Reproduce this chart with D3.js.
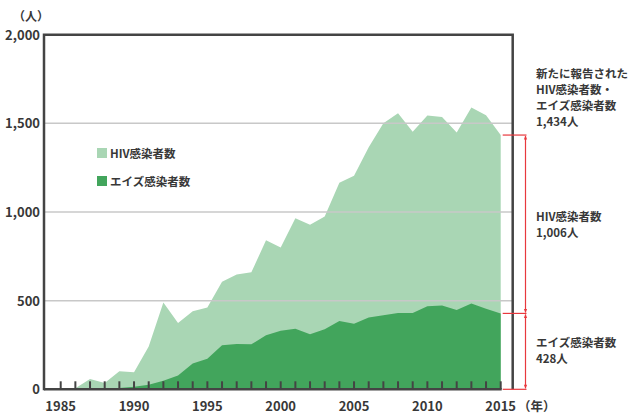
<!DOCTYPE html>
<html>
<head>
<meta charset="utf-8">
<script src="https://cdn.jsdelivr.net/npm/d3@7"></script>
<style>
  body { margin: 0; background: #fff; }
  svg { display: block; font-family: "Noto Sans CJK JP", "Noto Sans", sans-serif; }
  text { fill: #383838; font-weight: 700; }
</style>
</head>
<body>
<svg id="viz" width="642" height="415"></svg>
<script>
// Data
const years = d3.range(1985, 2016);
const hivCounts = [0, 4, 54, 30, 94, 82, 216, 441, 296, 295, 290, 359, 392, 406, 535, 470,
  623, 617, 636, 780, 834, 960, 1082, 1126, 1021, 1075, 1063, 1002, 1106, 1091, 1006];
const aidsCounts = [1, 2, 4, 5, 8, 14, 25, 48, 78, 145, 172, 248, 256, 254, 305, 330,
  342, 311, 338, 385, 370, 405, 418, 431, 431, 469, 473, 447, 484, 455, 428];
const yTicks = [0, 500, 1000, 1500, 2000];
const xLabels = [1985, 1990, 1995, 2000, 2005, 2010, 2015];

const svg = d3.select("#viz");
const data = years.map((y, i) => ({ year: y, hiv: hivCounts[i], aids: aidsCounts[i], total: hivCounts[i] + aidsCounts[i] }));

const frameLeft = 44, frameRight = 512.7;
const x = d3.scaleLinear().domain([1985, 2015]).range([60.7, 500.7]);
const y = d3.scaleLinear().domain([0, 2000]).range([389.3, 34.7]);

// areas
svg.append("path")
  .datum(data)
  .attr("fill", "#a9d6b4")
  .attr("d", d3.area().x(d => x(d.year)).y0(y(0)).y1(d => y(d.total)));
svg.append("path")
  .datum(data)
  .attr("fill", "#42a55c")
  .attr("d", d3.area().x(d => x(d.year)).y0(y(0)).y1(d => y(d.aids)));

// gridlines
svg.append("g").selectAll("line")
  .data(yTicks.filter(t => t > 0 && t < 2000))
  .enter().append("line")
  .attr("x1", frameLeft).attr("x2", frameRight)
  .attr("y1", d => y(d)).attr("y2", d => y(d))
  .attr("stroke", "#c8c8c8").attr("stroke-width", 1.5);

// frame
const frame = svg.append("g").attr("stroke", "#444").attr("stroke-width", 2.5).attr("fill", "none");
frame.append("path").attr("d", `M${frameLeft},${y(0) + 1}V${y(2000)}H${frameRight}V${y(0)}`);
frame.append("line").attr("x1", frameLeft).attr("x2", x(2015) + 1).attr("y1", y(0)).attr("y2", y(0));

// year ticks
svg.append("g").selectAll("line")
  .data(years)
  .enter().append("line")
  .attr("x1", d => x(d)).attr("x2", d => x(d))
  .attr("y1", y(0)).attr("y2", y(0) - 8)
  .attr("stroke", "#444").attr("stroke-width", 2);

// y labels
svg.append("g").selectAll("text")
  .data(yTicks)
  .enter().append("text")
  .attr("x", 40).attr("y", d => y(d) + 5)
  .attr("text-anchor", "end")
  .style("font-size", "13px")
  .text(d => d3.format(",")(d));
svg.append("text").attr("x", 31).attr("y", 21).attr("text-anchor", "middle")
  .style("font-size", "12px").text("（人）");

// x labels
svg.append("g").selectAll("text")
  .data(xLabels)
  .enter().append("text")
  .attr("x", d => x(d)).attr("y", 411)
  .attr("text-anchor", "middle")
  .style("font-size", "13px")
  .text(d => d);
svg.append("text").attr("x", 518).attr("y", 411)
  .style("font-size", "12.5px").text("（年）");

// legend
const legend = [
  { label: "HIV感染者数", color: "#a9d6b4", y: 148 },
  { label: "エイズ感染者数", color: "#42a55c", y: 176 }
];
const lg = svg.append("g").selectAll("g").data(legend).enter().append("g");
lg.append("rect").attr("x", 97).attr("y", d => d.y).attr("width", 10).attr("height", 10).attr("fill", d => d.color);
lg.append("text").attr("x", 110).attr("y", d => d.y + 9.5).style("font-size", "11.5px").text(d => d.label);

// red bracket
const last = data[data.length - 1];
const red = "#e8383d";
const bx = 525.5;
const bracket = svg.append("g").attr("stroke", red).attr("stroke-width", 1.2).attr("fill", "none");
[last.total, last.aids, 0].forEach(v => {
  bracket.append("line").attr("x1", x(2015) + 2).attr("x2", bx + 1).attr("y1", y(v)).attr("y2", y(v));
});
[[last.total, last.aids], [last.aids, 0]].forEach(([a, b]) => {
  bracket.append("line").attr("x1", bx).attr("x2", bx).attr("y1", y(a) + 1).attr("y2", y(b) - 1);
  bracket.append("path").attr("fill", red).attr("stroke", "none")
    .attr("d", `M${bx},${y(a) + 0.5}l-1.6,4h3.2z`);
  bracket.append("path").attr("fill", red).attr("stroke", "none")
    .attr("d", `M${bx},${y(b) - 0.5}l-1.6,-4h3.2z`);
});

// right annotations
const fmt = d3.format(",");
const notes = [
  { lines: ["新たに報告された", "HIV感染者数・", "エイズ感染者数", `${fmt(last.total)}人`], y: 77.5 },
  { lines: ["HIV感染者数", `${fmt(last.hiv)}人`], y: 221 },
  { lines: ["エイズ感染者数", `${fmt(last.aids)}人`], y: 347 }
];
notes.forEach(n => {
  n.lines.forEach((t, i) => {
    svg.append("text").attr("x", 536).attr("y", n.y + i * 16)
      .style("font-size", "11.5px").text(t);
  });
});
</script>
</body>
</html>
